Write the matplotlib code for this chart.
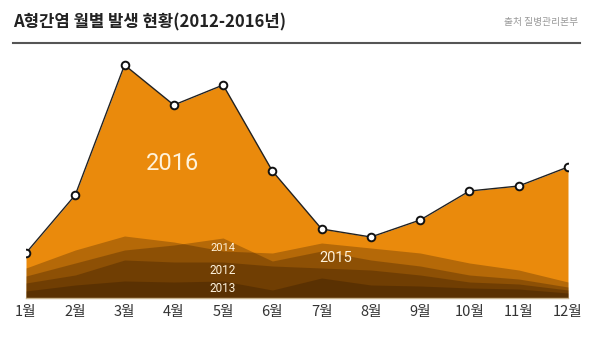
# A형간염 월별 발생 현황 (2012-2016), layered area chart

import matplotlib
matplotlib.use('Agg')
import matplotlib.pyplot as plt

months = ['1월', '2월', '3월', '4월', '5월', '6월', '7월', '8월', '9월', '10월', '11월', '12월']
x = list(range(1, 13))

# monthly cases (relative scale)
y2016 = [45, 103, 233, 193, 213, 127, 69, 61, 78, 107, 112, 131]
y2015 = [30, 48, 62, 56, 47, 45, 55, 50, 45, 35, 28, 16]
y2014 = [22, 35, 48, 53, 60, 37, 47, 38, 32, 23, 19, 11]
y2012 = [15, 23, 38, 36, 36, 32, 30, 28, 23, 16, 14, 8]
y2013 = [7, 13, 17, 16, 17, 8, 20, 13, 12, 10, 9, 5]

plt.rcParams['font.family'] = ['Noto Sans CJK KR', 'DejaVu Sans']
num_font = ['Liberation Sans Narrow', 'Roboto', 'DejaVu Sans']

fig = plt.figure(figsize=(6, 3.4), dpi=100)
ax = fig.add_axes([26/600, 42/340, 542/600, 250/340])

orange = '#EA8A0C'
dark = '#1E0C00'

ax.fill_between(x, y2016, 0, color=orange, lw=0)
for yy in [y2015, y2014, y2012, y2013]:
    ax.fill_between(x, yy, 0, color=dark, alpha=0.26, lw=0)

ax.plot(x, y2016, color='#222222', lw=1, marker='o', ms=5.5,
        mfc='white', mec='#111111', mew=1.4, zorder=5)

cream = '#FFF3DC'
ax.text(3.98, 135, '2016', color=cream, fontsize=17, family=num_font, ha='center', va='center')
ax.text(5.0, 50, '2014', color=cream, fontsize=8, family=num_font, ha='center', va='center')
ax.text(5.0, 28, '2012', color=cream, fontsize=8.5, family=num_font, ha='center', va='center')
ax.text(5.0, 9, '2013', color=cream, fontsize=8.5, family=num_font, ha='center', va='center')
ax.text(7.28, 40, '2015', color=cream, fontsize=10.5, family=num_font, ha='center', va='center')

ax.set_xlim(1, 12)
ax.set_ylim(0, 250)
ax.set_xticks(x)
ax.set_xticklabels(months, fontsize=10.5, color='#333333')
ax.tick_params(axis='x', length=0, pad=5)
ax.set_yticks([])
for s in ['top', 'right', 'left']:
    ax.spines[s].set_visible(False)
ax.spines['bottom'].set_color('#C9B48F')
ax.spines['bottom'].set_linewidth(1)
ax.patch.set_visible(False)

fig.text(13/600, 1 - 22/340, 'A형간염 월별 발생 현황(2012-2016년)', fontsize=12,
         fontweight='bold', color='#222222', va='center', ha='left')
fig.text(578/600, 1 - 22/340, '출처 질병관리본부', fontsize=7, color='#999999',
         va='center', ha='right')
fig.add_artist(plt.Line2D([13/600, 580/600], [1 - 43/340, 1 - 43/340],
                          color='#555555', lw=1.5))

fig.savefig('out.png', dpi=100)
